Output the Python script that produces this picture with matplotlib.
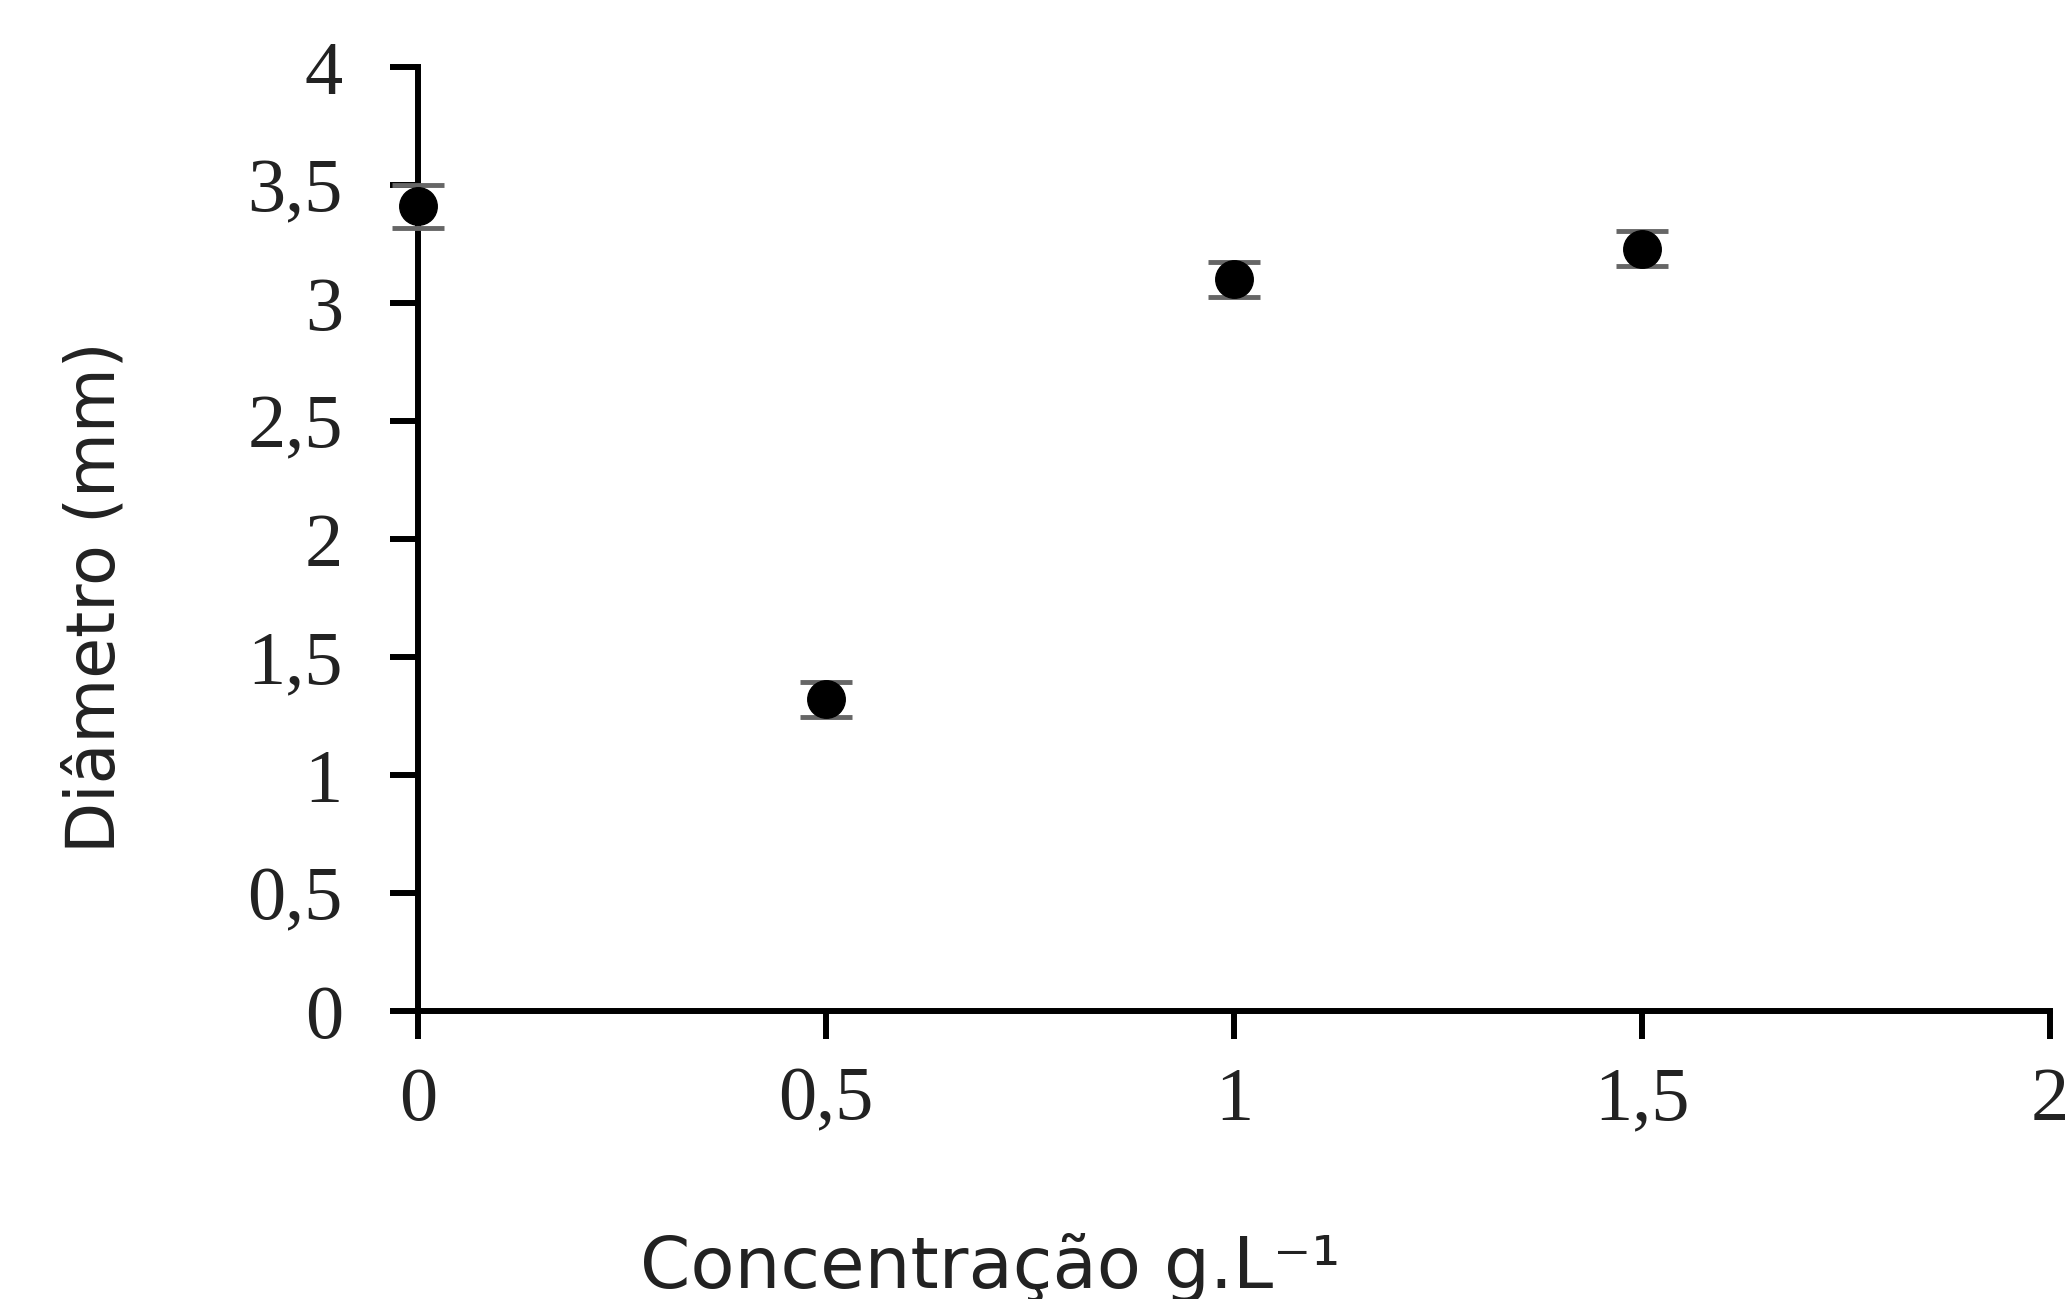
import matplotlib
matplotlib.use("Agg")
import matplotlib.pyplot as plt
from matplotlib.ticker import FuncFormatter

# Data
concentration = [0.0, 0.5, 1.0, 1.5]
diameter = [3.41, 1.32, 3.10, 3.23]
error = [0.09, 0.075, 0.075, 0.075]
x_ticks = [0, 0.5, 1, 1.5, 2]
y_ticks = [0, 0.5, 1, 1.5, 2, 2.5, 3, 3.5, 4]

fig = plt.figure(figsize=(20.71, 12.99), dpi=100)
ax = fig.add_axes([0.2018, 0.2217, 0.9899 - 0.2018, 0.9484 - 0.2217])

ax.errorbar(concentration, diameter, yerr=error, fmt='o', color='black',
            markersize=27, ecolor='#666666', elinewidth=2.5, capsize=19,
            capthick=3.5, zorder=3, clip_on=False)

ax.set_xlim(0, 2)
ax.set_ylim(0, 4)
ax.set_xticks(x_ticks)
ax.set_yticks(y_ticks)

def comma(v, pos):
    s = ('%g' % v)
    return s.replace('.', ',')

ax.xaxis.set_major_formatter(FuncFormatter(comma))
ax.yaxis.set_major_formatter(FuncFormatter(comma))

for side in ['top', 'right']:
    ax.spines[side].set_visible(False)
for side in ['left', 'bottom']:
    ax.spines[side].set_linewidth(4.3)

ax.tick_params(axis='both', direction='out', length=20, width=4.3,
               labelsize=55, colors='black')
ax.tick_params(axis='x', pad=20)
ax.tick_params(axis='y', pad=34)
for lab in ax.get_xticklabels() + ax.get_yticklabels():
    lab.set_fontfamily('Liberation Serif')
    lab.set_color('#222222')

fig.text(0.478, 0.0085, 'Concentração g.L\u207b\u00b9', ha='center', va='baseline',
         fontsize=52, family='DejaVu Sans', color='#222222')
fig.text(0.0459, 0.540, 'Diâmetro (mm)', ha='center', va='center',
         rotation=90, fontsize=48, family='DejaVu Sans', color='#222222')

fig.savefig('out.png', dpi=100)
